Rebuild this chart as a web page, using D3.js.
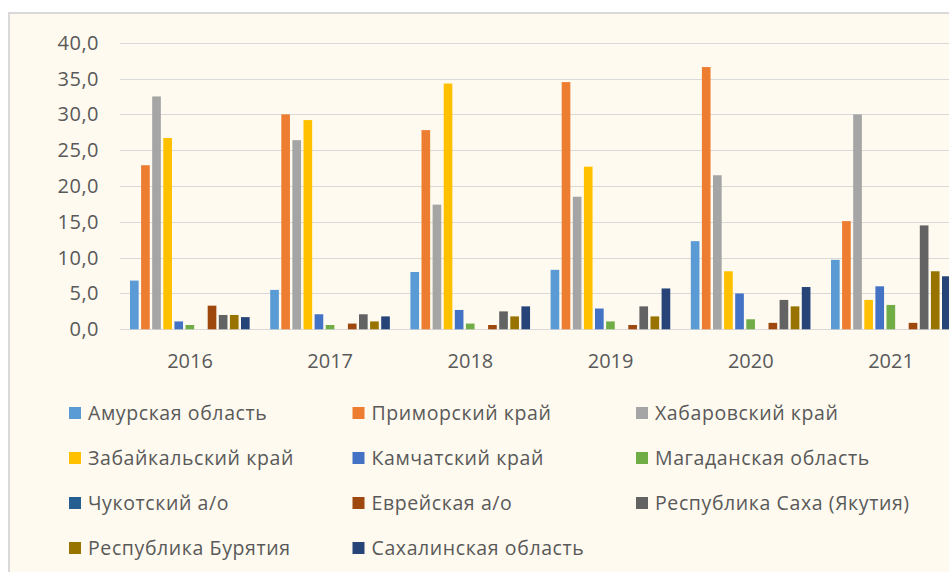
<!DOCTYPE html>
<html>
<head>
<meta charset="utf-8">
<script src="https://cdn.jsdelivr.net/npm/d3@7"></script>
<style>
  body { margin: 0; background: #fff; }
  text { font-family: "Open Sans", sans-serif; fill: #595959; }
</style>
</head>
<body>
<div id="chart"></div>
<script>
// years on the x axis
var years = ["2016", "2017", "2018", "2019", "2020", "2021"];

// one array per region, values per year
var amur      = [6.8, 5.5, 8.0, 8.3, 12.3, 9.7];
var primorye  = [22.9, 30.0, 27.8, 34.5, 36.6, 15.1];
var khabarovsk= [32.5, 26.4, 17.4, 18.5, 21.5, 30.0];
var zabaikal  = [26.7, 29.2, 34.3, 22.7, 8.1, 4.1];
var kamchatka = [1.1, 2.1, 2.7, 2.9, 5.0, 6.0];
var magadan   = [0.6, 0.6, 0.8, 1.1, 1.4, 3.4];
var chukotka  = [0, 0, 0, 0, 0, 0];
var evrei     = [3.3, 0.8, 0.6, 0.6, 0.9, 0.9];
var sakha     = [2.0, 2.1, 2.5, 3.2, 4.1, 14.5];
var buryatia  = [2.0, 1.1, 1.8, 1.8, 3.2, 8.1];
var sakhalin  = [1.7, 1.8, 3.2, 5.7, 5.9, 7.4];

var names = ["Амурская область", "Приморский край", "Хабаровский край",
  "Забайкальский край", "Камчатский край", "Магаданская область",
  "Чукотский а/о", "Еврейская а/о", "Республика Саха (Якутия)",
  "Республика Бурятия", "Сахалинская область"];
var colors = ["#5B9BD5", "#ED7D31", "#A5A5A5", "#FFC000", "#4472C4", "#70AD47",
  "#255E91", "#9E480E", "#636363", "#997300", "#264478"];

var yTicks = [0, 5, 10, 15, 20, 25, 30, 35, 40];

var series = [amur, primorye, khabarovsk, zabaikal, kamchatka, magadan,
  chukotka, evrei, sakha, buryatia, sakhalin];

var width = 949, height = 572;

var svg = d3.select("#chart").append("svg")
    .attr("width", width)
    .attr("height", height);

// chart area with the light border
svg.append("rect")
    .attr("x", 9).attr("y", 13)
    .attr("width", 960).attr("height", 580)
    .style("fill", "#FEFAEF")
    .style("stroke", "#D9D9D9")
    .style("stroke-width", 2);

var y = d3.scaleLinear().domain([0, 40]).range([329.3, 42.7]);

var x0 = d3.scaleBand().domain(years).range([120, 120 + 6 * 140.2]);
var x1 = d3.scaleBand().domain(d3.range(names.length))
    .range([10, 10 + 11.1 * (11 - 0.22)]).paddingInner(0.22);

// gridlines
svg.selectAll(".grid")
    .data(yTicks)
    .enter().append("line")
    .attr("x1", 120).attr("x2", width)
    .attr("y1", function(d) { return Math.round(y(d)) + 0.5; })
    .attr("y2", function(d) { return Math.round(y(d)) + 0.5; })
    .style("stroke", "#D9D9D9")
    .style("stroke-width", 1);

// y labels
svg.selectAll(".ylab")
    .data(yTicks)
    .enter().append("text")
    .attr("x", 99)
    .attr("y", function(d) { return y(d) + 7; })
    .style("text-anchor", "end")
    .style("font-size", "20px")
    .style("letter-spacing", "0.5px")
    .text(function(d) { return d.toFixed(1).replace(".", ","); });

// bars
var groups = svg.selectAll(".year")
    .data(years)
    .enter().append("g")
    .attr("transform", function(d) { return "translate(" + x0(d) + ",0)"; });

groups.selectAll("rect")
    .data(function(d, i) {
      return series.map(function(s, k) { return { k: k, v: s[i] }; });
    })
    .enter().append("rect")
    .attr("x", function(d) { return x1(d.k); })
    .attr("width", x1.bandwidth())
    .attr("y", function(d) { return y(d.v); })
    .attr("height", function(d) { return y(0) - y(d.v); })
    .style("fill", function(d) { return colors[d.k]; });

// x labels
svg.selectAll(".xlab")
    .data(years)
    .enter().append("text")
    .attr("x", function(d) { return x0(d) + 70; })
    .attr("y", 368)
    .style("text-anchor", "middle")
    .style("font-size", "20px")
    .text(function(d) { return d; });

// legend, three columns
var legend = svg.selectAll(".legend")
    .data(names)
    .enter().append("g")
    .attr("transform", function(d, i) {
      return "translate(" + (69 + (i % 3) * 283.5) + "," + (407 + Math.floor(i / 3) * 45) + ")";
    });

legend.append("rect")
    .attr("width", 12).attr("height", 12)
    .style("fill", function(d, i) { return colors[i]; });

legend.append("text")
    .attr("x", 19)
    .attr("y", 12.5)
    .style("font-size", "19.5px")
    .style("letter-spacing", "0.6px")
    .text(function(d) { return d; });
</script>
</body>
</html>
